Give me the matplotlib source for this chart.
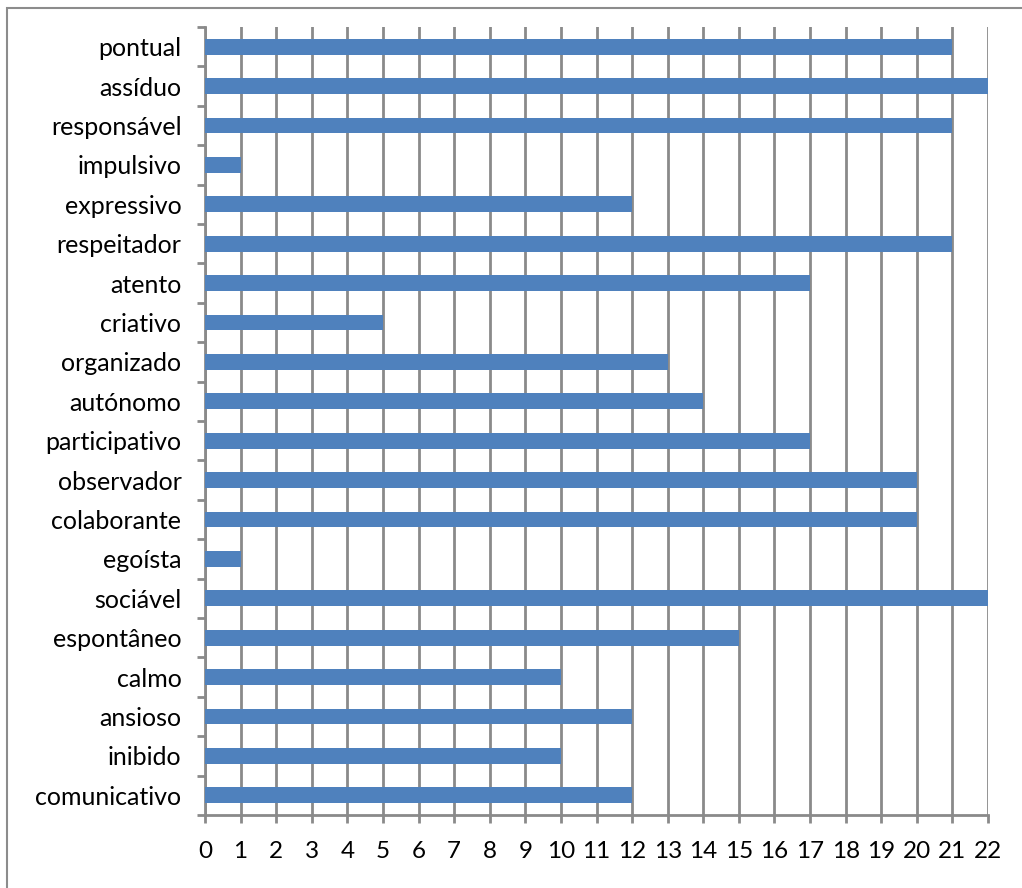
import matplotlib
matplotlib.use("Agg")
import matplotlib.pyplot as plt
from matplotlib.patches import Rectangle
from matplotlib.ticker import FixedLocator, MultipleLocator

plt.rcParams['font.family'] = ['Lato', 'DejaVu Sans']

traits = ["pontual", "assíduo", "responsável", "impulsivo", "expressivo",
          "respeitador", "atento", "criativo", "organizado", "autónomo",
          "participativo", "observador", "colaborante", "egoísta", "sociável",
          "espontâneo", "calmo", "ansioso", "inibido", "comunicativo"]
counts = [21, 22, 21, 1, 12, 21, 17, 5, 13, 14, 17, 20, 20, 1, 22, 15, 10, 12, 10, 12]

W, H = 1022, 888
fig = plt.figure(figsize=(W / 100, H / 100), dpi=100)

# chart-area frame (left and top edges visible)
fig.patches.append(Rectangle((7 / W, -0.1), 1.2, 1 - 8 / H + 0.1,
                             transform=fig.transFigure, fill=False,
                             edgecolor="#8c8c8c", linewidth=1.5))

ax = fig.add_axes([205 / W, 1 - 815 / H, (988 - 205) / W, (815 - 27) / H])

n = len(traits)
ypos = list(range(n))[::-1]
ax.barh(ypos, counts, height=0.4, color="#4F81BD", zorder=3)

ax.set_xlim(0, 22)
ax.set_ylim(-0.5, n - 0.5)

ax.xaxis.set_major_locator(MultipleLocator(1))
ax.grid(axis="x", color="#8a8a8a", linewidth=2.0, zorder=1)
ax.tick_params(axis="x", direction="out", length=6, width=2.0, color="#8a8a8a",
               labelsize=17.5, pad=13)

ax.set_yticks(ypos)
ax.set_yticklabels(traits)
ax.yaxis.set_minor_locator(FixedLocator([i - 0.5 for i in range(n + 1)]))
ax.tick_params(axis="y", which="major", length=0, labelsize=18, pad=17)
ax.tick_params(axis="y", which="minor", direction="out", length=6, width=2.0,
               color="#8a8a8a")

for side in ("top", "right"):
    ax.spines[side].set_visible(False)
for side in ("left", "bottom"):
    ax.spines[side].set_color("#8a8a8a")
    ax.spines[side].set_linewidth(2.0)

fig.savefig("out.png", dpi=100)
